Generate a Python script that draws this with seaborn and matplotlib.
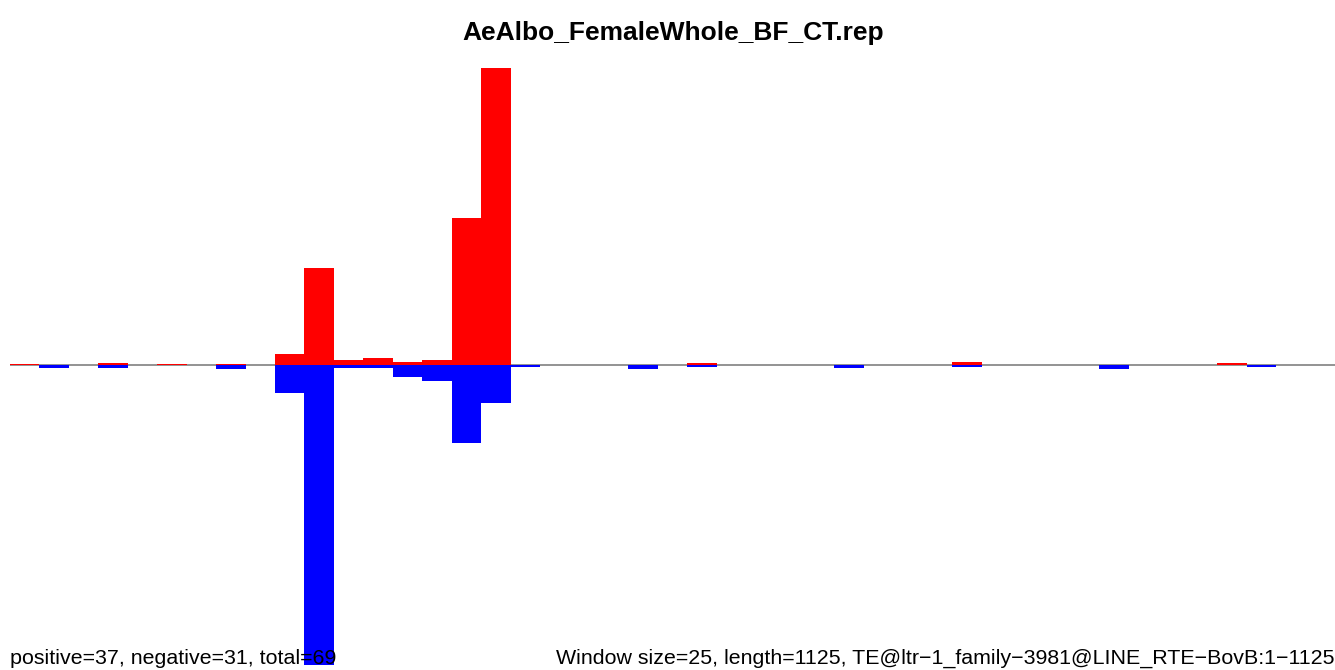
import numpy as np
import pandas as pd
import matplotlib
matplotlib.use('Agg')
import matplotlib.pyplot as plt
import seaborn as sns

# window index (25 bp windows over 1125 bp -> 45 windows)
windows = list(range(45))
# coverage per window, strand split
positive = [1, 0, 0, 2, 0, 1, 0, 1, 0, 11, 97, 5, 7, 3, 5, 147, 297, 0, 0, 0,
            0, 0, 0, 2, 0, 0, 0, 0, 0, 0, 0, 0, 3, 0, 0, 0, 0, 0, 0, 0,
            0, 2, 0, 0, 0]
negative = [0, 3, 0, 3, 0, 0, 0, 4, 0, 28, 300, 3, 3, 12, 16, 78, 38, 2, 0, 0,
            0, 4, 0, 2, 0, 0, 0, 0, 3, 0, 0, 0, 2, 0, 0, 0, 0, 4, 0, 0,
            0, 0, 2, 0, 0]

title = "AeAlbo_FemaleWhole_BF_CT.rep"
left_note = "positive=37, negative=31, total=69"
right_note = "Window size=25, length=1125, TE@ltr\u22121_family\u22123981@LINE_RTE\u2212BovB:1\u22121125"

sns.set_style('white')
plt.rcParams['font.family'] = ['Liberation Sans', 'DejaVu Sans']
plt.rcParams['text.color'] = 'black'

df = pd.DataFrame({"window": windows,
                   "pos": positive,
                   "neg": [-v for v in negative]})

fig = plt.figure(figsize=(13.35, 6.7), dpi=100)
ax = fig.add_axes([10 / 1335, 5 / 670, 1325 / 1335, 600 / 670])

sns.barplot(data=df, x="window", y="pos", order=windows, color="#ff0000",
            width=1.0, saturation=1, linewidth=0, ax=ax)
sns.barplot(data=df, x="window", y="neg", order=windows, color="#0000ff",
            width=1.0, saturation=1, linewidth=0, ax=ax)

ax.axhline(0, color="gray", lw=1.2, zorder=0.5)
ymax = max(max(positive), max(negative))
ax.set_ylim(-ymax, ymax)
ax.set_xlim(-0.5, len(windows) - 0.5)
ax.axis('off')

fig.text(673 / 1335, 1 - 33 / 670, title, ha='center', va='center',
         fontsize=19, fontweight='bold', color='black')
fig.text(10 / 1335, 6 / 670, left_note, ha='left', va='baseline',
         fontsize=15.4, color='black')
fig.text(1.0, 6 / 670, right_note, ha='right', va='baseline',
         fontsize=15.4, color='black')

fig.savefig("out.png", dpi=100)
